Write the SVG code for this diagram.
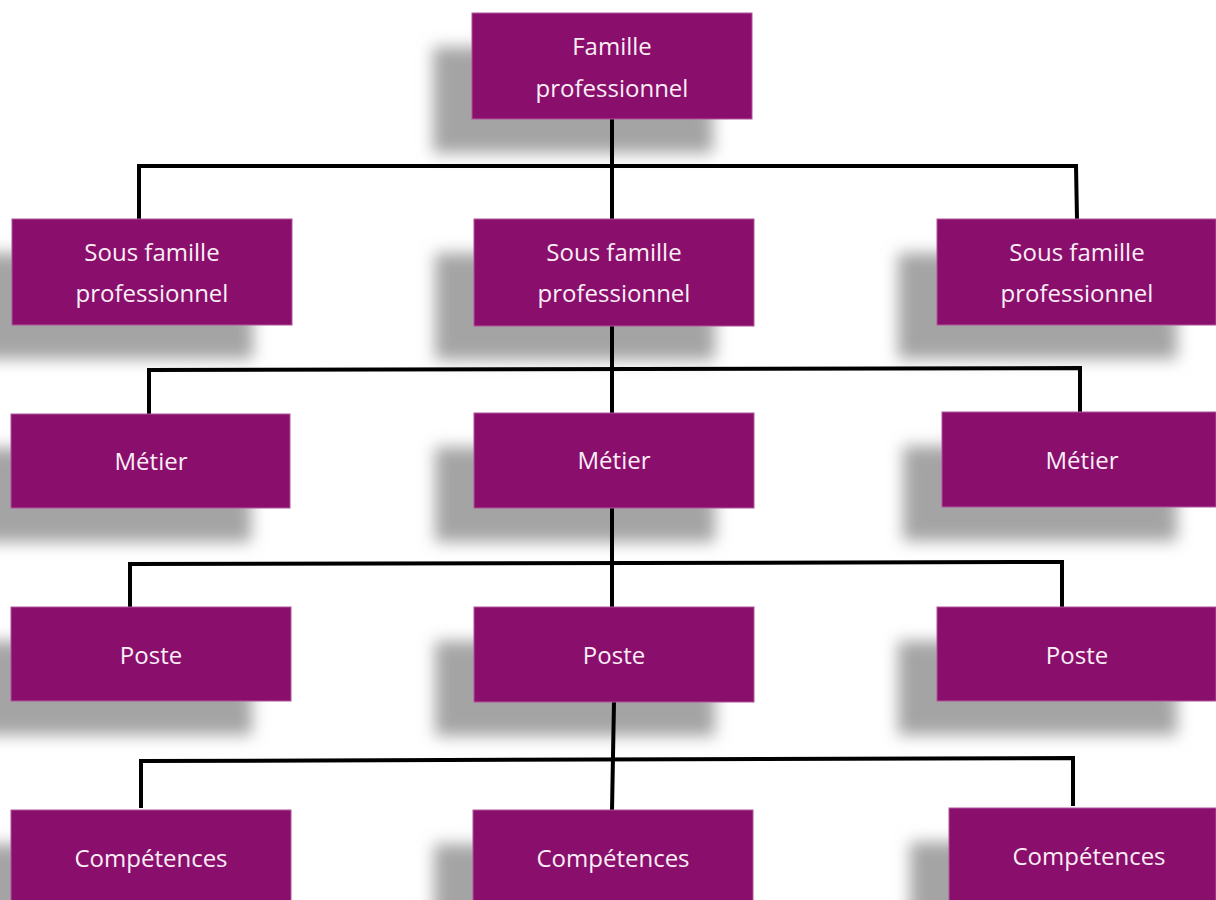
<svg xmlns="http://www.w3.org/2000/svg" width="1216" height="900" viewBox="0 0 1216 900">
<defs>
<filter id="blur" x="-20%" y="-40%" width="140%" height="180%"><feGaussianBlur stdDeviation="8"/></filter>
</defs>
<style>
.sh{fill:#a4a4a4;filter:url(#blur)}
.box{fill:#8a0f6d;stroke:#b0559a;stroke-width:1}
.t{font-family:"Open Sans","Noto Sans",sans-serif;font-size:24px;fill:#fbeef6;text-anchor:middle}
.c{fill:none;stroke:#000;stroke-width:4;stroke-linejoin:miter}
</style>
<rect width="1216" height="900" fill="#fff"/>
<g id="shadows">
<rect class="sh" x="433" y="47" width="280" height="106"/>
<rect class="sh" x="-27" y="253" width="280" height="106"/>
<rect class="sh" x="435" y="253" width="280" height="107"/>
<rect class="sh" x="898" y="253" width="279" height="106"/>
<rect class="sh" x="-28" y="448" width="279" height="94"/>
<rect class="sh" x="435" y="447" width="280" height="95"/>
<rect class="sh" x="903" y="446" width="274" height="95"/>
<rect class="sh" x="-28" y="641" width="280" height="94"/>
<rect class="sh" x="435" y="641" width="280" height="95"/>
<rect class="sh" x="898" y="641" width="279" height="94"/>
<rect class="sh" x="-28" y="844" width="280" height="100"/>
<rect class="sh" x="434" y="844" width="280" height="100"/>
<rect class="sh" x="910" y="842" width="267" height="100"/>
</g>
<g id="connectors">
<path class="c" d="M612,119 V220"/>
<path class="c" d="M139,219 V166 H1076 L1077,219"/>
<path class="c" d="M612,326 V413"/>
<path class="c" d="M149,415 V370 L1080,368 V412"/>
<path class="c" d="M612,508 V607"/>
<path class="c" d="M130,607 V564 L1062,562 V607"/>
<path class="c" d="M614,702 L612,810"/>
<path class="c" d="M141,808 V761 L1073,758 V806"/>
</g>
<g id="n0"><rect class="box" x="472" y="13" width="280" height="106"/><text class="t" x="612" y="55">Famille</text><text class="t" x="612" y="97">professionnel</text></g>
<g id="n1a"><rect class="box" x="12" y="219" width="280" height="106"/><text class="t" x="152" y="261">Sous famille</text><text class="t" x="152" y="302">professionnel</text></g>
<g id="n1b"><rect class="box" x="474" y="219" width="280" height="107"/><text class="t" x="614" y="261">Sous famille</text><text class="t" x="614" y="302">professionnel</text></g>
<g id="n1c"><rect class="box" x="937" y="219" width="279" height="106"/><text class="t" x="1077" y="261">Sous famille</text><text class="t" x="1077" y="302">professionnel</text></g>
<g id="n2a"><rect class="box" x="11" y="414" width="279" height="94"/><text class="t" x="151" y="470">Métier</text></g>
<g id="n2b"><rect class="box" x="474" y="413" width="280" height="95"/><text class="t" x="614" y="469">Métier</text></g>
<g id="n2c"><rect class="box" x="942" y="412" width="274" height="95"/><text class="t" x="1082" y="469">Métier</text></g>
<g id="n3a"><rect class="box" x="11" y="607" width="280" height="94"/><text class="t" x="151" y="664">Poste</text></g>
<g id="n3b"><rect class="box" x="474" y="607" width="280" height="95"/><text class="t" x="614" y="664">Poste</text></g>
<g id="n3c"><rect class="box" x="937" y="607" width="279" height="94"/><text class="t" x="1077" y="664">Poste</text></g>
<g id="n4a"><rect class="box" x="11" y="810" width="280" height="100"/><text class="t" x="151" y="867">Compétences</text></g>
<g id="n4b"><rect class="box" x="473" y="810" width="280" height="100"/><text class="t" x="613" y="867">Compétences</text></g>
<g id="n4c"><rect class="box" x="949" y="808" width="267" height="100"/><text class="t" x="1089" y="865">Compétences</text></g>
</svg>
